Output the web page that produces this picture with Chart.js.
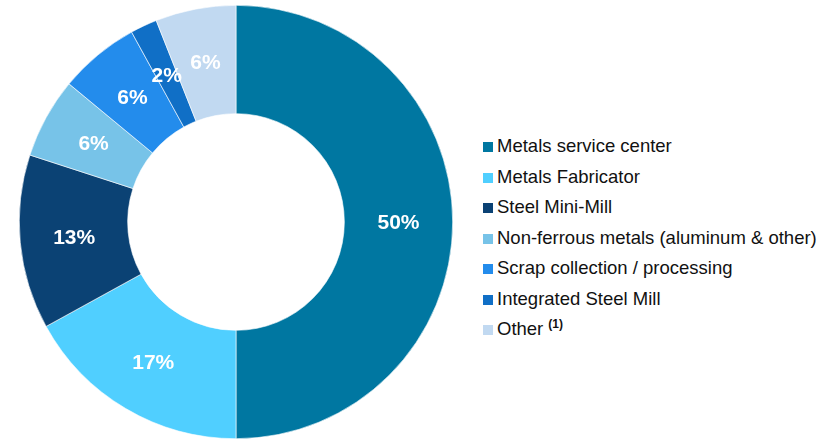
<!DOCTYPE html>
<html>
<head>
<meta charset="utf-8">
<script src="https://cdn.jsdelivr.net/npm/chart.js@4/dist/chart.umd.min.js"></script>
<style>
  html, body { margin: 0; padding: 0; background: #fff; }
  body { width: 834px; height: 439px; position: relative; overflow: hidden; font-family: "Liberation Sans", Arial, sans-serif; }
  #wrap { position: absolute; left: 0; top: 0; width: 472px; height: 439px; }
  #legend { position: absolute; left: 483px; top: 131px; margin: 0; padding: 0; list-style: none; }
  #legend li { height: 30.5px; line-height: 30px; font-size: 18.5px; color: #111; white-space: nowrap; }
  #legend li span.box { display: inline-block; width: 10px; height: 10px; margin-right: 4px; vertical-align: 0px; }
  #legend sup { font-size: 12px; font-weight: bold; vertical-align: 7px; line-height: 0; margin-left: 5px; }
</style>
</head>
<body>
<div id="wrap"><canvas id="chartDona"></canvas></div>
<ul id="legend"></ul>
<script>
// Segmentos de clientes (%)
const segmentos = ['Metals service center', 'Metals Fabricator', 'Steel Mini-Mill', 'Non-ferrous metals (aluminum & other)', 'Scrap collection / processing', 'Integrated Steel Mill', 'Other'];
const porcentajes = [50, 17, 13, 6, 6, 2, 6];
const notas = ['', '', '', '', '', '', '(1)'];

const colores = [
    '#0077a1', // Metals service center
    '#50cfff', // Metals Fabricator
    '#0b4274', // Steel Mini-Mill
    '#77c3e8', // Non-ferrous
    '#238cec', // Scrap
    '#106fc6', // Integrated
    '#c1d9f1'  // Other
];

// Etiquetas blancas dentro de cada sección
const etiquetas = {
    id: 'etiquetas',
    afterDatasetsDraw(chart) {
        const ctx = chart.ctx;
        const meta = chart.getDatasetMeta(0);
        ctx.save();
        ctx.fillStyle = '#ffffff';
        ctx.font = 'bold 21px "Liberation Sans", Arial, sans-serif';
        ctx.textAlign = 'center';
        ctx.textBaseline = 'middle';
        meta.data.forEach((arc, i) => {
            const p = arc.tooltipPosition();
            ctx.fillText(porcentajes[i] + '%', p.x, p.y + 1);
        });
        ctx.restore();
    }
};

const dona = new Chart(document.getElementById('chartDona'), {
    type: 'doughnut',
    data: {
        labels: segmentos,
        datasets: [{
            data: porcentajes,
            backgroundColor: colores,
            borderColor: '#ffffff',
            borderWidth: 0.6
        }]
    },
    options: {
        responsive: true,
        maintainAspectRatio: false,
        animation: false,
        cutout: '50%',
        layout: { padding: { top: 5, bottom: 0 } },
        plugins: {
            legend: { display: false },
            tooltip: { enabled: false }
        }
    },
    plugins: [etiquetas]
});

// Leyenda a la derecha
const ul = document.getElementById('legend');
segmentos.forEach((s, i) => {
    const li = document.createElement('li');
    const box = document.createElement('span');
    box.className = 'box';
    box.style.background = colores[i];
    li.appendChild(box);
    li.appendChild(document.createTextNode(s));
    if (notas[i]) {
        const sup = document.createElement('sup');
        sup.textContent = notas[i];
        li.appendChild(sup);
    }
    ul.appendChild(li);
});
</script>
</body>
</html>
